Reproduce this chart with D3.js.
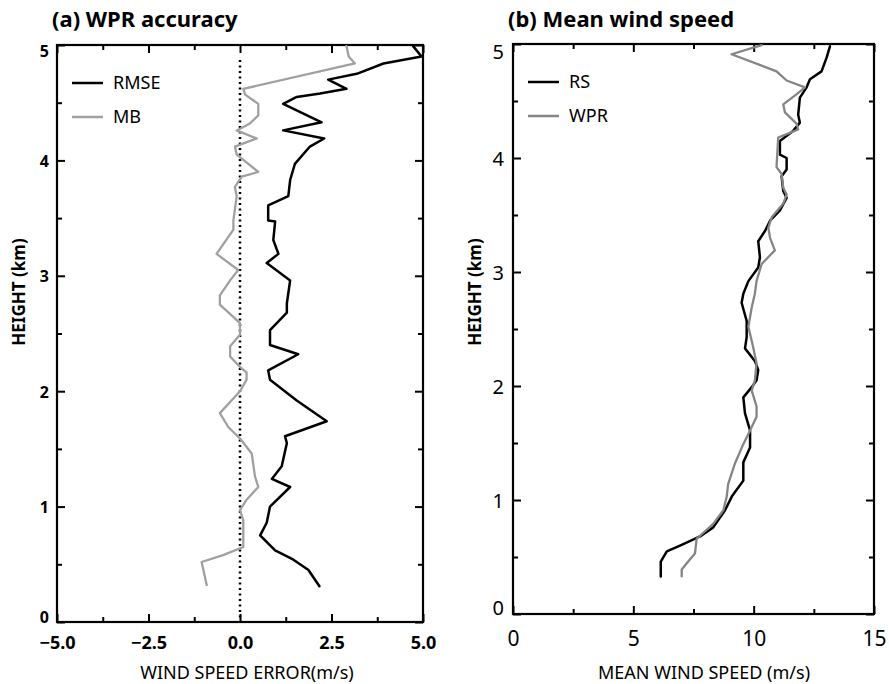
<!DOCTYPE html>
<html>
<head>
<meta charset="utf-8">
<script src="https://cdn.jsdelivr.net/npm/d3@7"></script>
<style>
  body { margin: 0; background: #fff; }
  svg text { font-family: "Noto Sans", "Noto Sans CJK KR", sans-serif; }
</style>
</head>
<body>
<div id="chart"></div>
<script>

// (a) RMSE and mean bias of WPR against RS, bottom to top
var rmseHeight = [0.31,0.45,0.54,0.62,0.75,0.86,1.00,1.17,1.24,1.35,1.55,1.61,1.74,1.92,2.10,2.18,2.32,2.40,2.53,2.68,2.76,2.96,3.11,3.19,3.31,3.47,3.48,3.61,3.69,3.83,3.97,4.12,4.19,4.26,4.33,4.49,4.55,4.58,4.62,4.70,4.75,4.84,4.90,4.99];
var rmseValue  = [2.17,1.87,1.46,0.96,0.55,0.73,0.82,1.37,0.87,1.14,1.28,1.23,2.37,1.55,0.82,0.77,1.59,0.82,0.82,1.28,1.28,1.37,0.73,1.05,0.91,0.96,0.77,0.77,1.32,1.37,1.50,1.91,2.30,1.18,2.23,1.18,1.55,2.19,2.91,2.41,3.19,3.92,4.96,4.73];

var mbHeight = [0.32,0.45,0.52,0.58,0.65,0.88,0.97,1.06,1.17,1.26,1.46,1.59,1.69,1.81,2.00,2.10,2.16,2.21,2.30,2.39,2.49,2.59,2.75,2.83,2.96,3.05,3.19,3.40,3.48,3.69,3.77,3.86,3.90,4.05,4.12,4.19,4.26,4.32,4.39,4.49,4.57,4.62,4.84,4.90,4.99];
var mbValue  = [-0.91,-1.00,-1.05,-0.46,0.09,0.09,0.00,0.18,0.50,0.41,0.32,0.00,-0.32,-0.55,0.00,0.18,0.18,0.00,-0.27,-0.27,0.00,0.00,-0.55,-0.55,-0.27,-0.05,-0.64,-0.18,-0.18,-0.09,-0.14,0.05,0.50,-0.09,-0.14,0.46,-0.09,0.27,0.50,0.50,0.14,0.09,3.14,2.97,2.91];

// (b) mean wind speed, radiosonde and wind profiler
var rsHeight = [0.33,0.46,0.55,0.60,0.68,0.76,0.91,1.03,1.17,1.33,1.46,1.61,1.76,1.90,1.99,2.05,2.14,2.22,2.33,2.43,2.57,2.73,2.81,2.92,3.04,3.13,3.27,3.36,3.45,3.54,3.65,3.71,3.84,3.90,4.00,4.03,4.15,4.24,4.31,4.38,4.53,4.62,4.69,4.76,4.88,4.98];
var rsValue  = [6.14,6.14,6.39,6.94,7.77,8.32,8.81,9.09,9.57,9.57,9.85,9.85,9.64,9.57,9.92,10.12,10.19,10.05,9.64,9.71,9.71,9.50,9.57,9.78,10.19,10.26,10.19,10.47,10.68,11.09,11.37,11.23,11.16,11.37,11.37,11.09,11.09,11.65,11.92,11.85,11.92,12.20,12.34,12.82,13.03,13.17];

var wprHeight = [0.33,0.39,0.46,0.53,0.66,0.79,0.91,1.03,1.14,1.32,1.49,1.61,1.73,1.82,1.96,2.05,2.20,2.34,2.52,2.69,2.81,2.92,3.07,3.19,3.30,3.39,3.48,3.60,3.68,3.74,3.86,3.92,4.18,4.21,4.25,4.30,4.40,4.47,4.56,4.62,4.68,4.76,4.91,4.99];
var wprValue  = [7.01,7.01,7.28,7.56,7.63,8.32,8.74,8.88,8.94,9.22,9.57,9.85,10.12,10.12,9.92,10.05,10.12,9.98,9.78,9.92,10.05,10.12,10.33,10.88,10.68,10.61,10.75,11.23,11.37,11.23,11.16,10.95,11.02,11.37,11.85,11.79,11.30,11.23,11.79,12.13,11.37,10.95,9.08,10.33];

var errMajor = [-5, -2.5, 0, 2.5, 5];
var errMinor = [-3.75, -1.25, 1.25, 3.75];
var spdMajor = [0, 5, 10, 15];
var spdMinor = [2.5, 7.5, 12.5];
var hMajor = [0, 1, 2, 3, 4, 5];
var hMinor = [0.5, 1.5, 2.5, 3.5, 4.5];

function zipSeries(h, v){
    return h.map(function(d, i){ return {h: d, v: v[i]}; });
}

var svg = d3.select("#chart").append("svg")
    .attr("width", 889)
    .attr("height", 684);

function drawPanel(opt){

    var x = d3.scaleLinear().domain(opt.xDomain).range([opt.left, opt.right]);
    var y = d3.scaleLinear().domain([0, 5]).range([opt.bottom, opt.top]);

    var g = svg.append("g");

    // ticks on all four sides, pointing in
    g.append("g")
        .attr("transform", "translate(0," + opt.bottom + ")")
        .call(d3.axisBottom(x).tickValues(opt.xMajor).tickSize(-8).tickPadding(opt.xPad).tickFormat(opt.xFormat))
        .call(function(a){
            a.select(".domain").remove();
            a.selectAll("text").attr("font-size", opt.xFont).attr("font-weight", opt.tickWeight)
                .attr("font-family", opt.tickFamily).attr("fill", "#000");
        });
    g.append("g")
        .attr("transform", "translate(0," + opt.bottom + ")")
        .call(d3.axisBottom(x).tickValues(opt.xMinor).tickSize(-5).tickFormat(""))
        .call(function(a){ a.select(".domain").remove(); });
    g.append("g")
        .attr("transform", "translate(0," + opt.top + ")")
        .call(d3.axisTop(x).tickValues(opt.xMajor).tickSize(-8).tickFormat(""))
        .call(function(a){ a.select(".domain").remove(); });
    g.append("g")
        .attr("transform", "translate(0," + opt.top + ")")
        .call(d3.axisTop(x).tickValues(opt.xMinor).tickSize(-5).tickFormat(""))
        .call(function(a){ a.select(".domain").remove(); });

    g.append("g")
        .attr("transform", "translate(" + opt.left + ",0)")
        .call(d3.axisLeft(y).tickValues(hMajor).tickSize(-8).tickPadding(opt.yPad).tickFormat(d3.format("d")))
        .call(function(a){
            a.select(".domain").remove();
            a.selectAll("text").attr("font-size", opt.yFont).attr("font-weight", opt.tickWeight)
                .attr("font-family", opt.tickFamily).attr("fill", "#000")
                .attr("dy", function(d){ return d === 5 ? "0.7em" : (d === 0 ? "0.0em" : "0.38em"); });
        });
    g.append("g")
        .attr("transform", "translate(" + opt.left + ",0)")
        .call(d3.axisLeft(y).tickValues(hMinor).tickSize(-5).tickFormat(""))
        .call(function(a){ a.select(".domain").remove(); });
    g.append("g")
        .attr("transform", "translate(" + opt.right + ",0)")
        .call(d3.axisRight(y).tickValues(hMajor).tickSize(-8).tickFormat(""))
        .call(function(a){ a.select(".domain").remove(); });
    g.append("g")
        .attr("transform", "translate(" + opt.right + ",0)")
        .call(d3.axisRight(y).tickValues(hMinor).tickSize(-5).tickFormat(""))
        .call(function(a){ a.select(".domain").remove(); });

    g.selectAll(".tick line").attr("stroke", "#000").attr("stroke-width", 2);

    g.append("rect")
        .attr("x", opt.left).attr("y", opt.top)
        .attr("width", opt.right - opt.left).attr("height", opt.bottom - opt.top)
        .attr("fill", "none").attr("stroke", "#000").attr("stroke-width", 2.2);

    if (opt.zeroLine) {
        g.append("line")
            .attr("x1", x(0)).attr("x2", x(0))
            .attr("y1", y(0.04)).attr("y2", y(4.88))
            .attr("stroke", "#000").attr("stroke-width", 2.5)
            .attr("stroke-dasharray", "2,3.5");
    }

    var line = d3.line()
        .x(function(d){ return x(d.v); })
        .y(function(d){ return y(d.h); });

    opt.series.forEach(function(s){
        g.append("path")
            .attr("fill", "none")
            .attr("stroke", s.color)
            .attr("stroke-width", s.width)
            .attr("stroke-linejoin", "round")
            .attr("stroke-linecap", "round")
            .attr("d", line(s.data));
    });

    // legend
    opt.series.forEach(function(s, i){
        var ly = opt.top + 38 + i * 34;
        g.append("line")
            .attr("x1", opt.left + 15).attr("x2", opt.left + 46)
            .attr("y1", ly).attr("y2", ly)
            .attr("stroke", s.color).attr("stroke-width", 2.5);
        g.append("text")
            .attr("x", opt.left + 56).attr("y", ly + 6)
            .attr("font-size", 18)
            .text(s.name);
    });

    g.append("text")
        .attr("x", opt.left - 5).attr("y", 27)
        .attr("font-size", 22).attr("font-weight", "bold")
        .text(opt.title);

    g.append("text")
        .attr("x", opt.xTitleX).attr("y", 679)
        .attr("text-anchor", "middle")
        .attr("font-size", 18)
        .text(opt.xTitle);

    g.append("text")
        .attr("transform", "translate(" + opt.yTitleX + ",292) rotate(-90)")
        .attr("text-anchor", "middle")
        .attr("font-size", 17).attr("font-weight", "bold")
        .text("HEIGHT (km)");
}

drawPanel({
    left: 57, right: 423, top: 45, bottom: 622,
    xDomain: [-5, 5], xMajor: errMajor, xMinor: errMinor,
    xFormat: d3.format(".1f"), xPad: 14, xFont: 18, yPad: 8, yFont: 16,
    tickWeight: "bold", tickFamily: "'Liberation Sans', sans-serif",
    zeroLine: true,
    title: "(a) WPR accuracy",
    xTitle: "WIND SPEED ERROR(m/s)", xTitleX: 247, yTitleX: 25,
    series: [
        {name: "RMSE", color: "#000", width: 2.5, data: zipSeries(rmseHeight, rmseValue)},
        {name: "MB", color: "#a0a0a0", width: 2.3, data: zipSeries(mbHeight, mbValue)}
    ]
});

drawPanel({
    left: 513, right: 874, top: 44, bottom: 614,
    xDomain: [0, 15], xMajor: spdMajor, xMinor: spdMinor,
    xFormat: d3.format("d"), xPad: 17, xFont: 21, yPad: 9, yFont: 20,
    tickWeight: "normal", tickFamily: "'Noto Sans', sans-serif",
    zeroLine: false,
    title: "(b) Mean wind speed",
    xTitle: "MEAN WIND SPEED (m/s)", xTitleX: 704, yTitleX: 481,
    series: [
        {name: "RS", color: "#000", width: 2.5, data: zipSeries(rsHeight, rsValue)},
        {name: "WPR", color: "#858585", width: 2.3, data: zipSeries(wprHeight, wprValue)}
    ]
});

</script>
</body>
</html>
